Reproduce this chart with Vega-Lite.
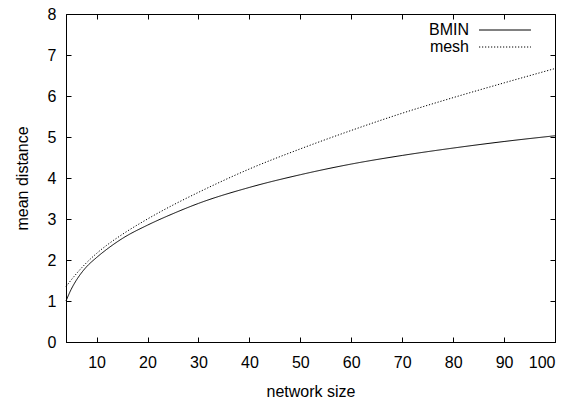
{
  "$schema": "https://vega.github.io/schema/vega-lite/v6.json",
  "autosize": "none",
  "width": 489,
  "height": 328,
  "padding": {"left": 66, "top": 14, "right": 27, "bottom": 60},
  "background": "white",
  "config": {
    "font": "Liberation Sans",
    "view": {"stroke": "black", "strokeWidth": 1},
    "axis": {
      "grid": false,
      "domainColor": "black",
      "tickColor": "black",
      "labelColor": "black",
      "titleColor": "black",
      "labelFont": "Liberation Sans",
      "titleFont": "Liberation Sans",
      "labelFontSize": 16,
      "titleFontSize": 16,
      "titleFontWeight": "normal",
      "tickSize": -5
    }
  },
  "data": {
    "values": [
      {"n": 4, "series": "BMIN", "d": 1.0},
      {"n": 5, "series": "BMIN", "d": 1.28},
      {"n": 6, "series": "BMIN", "d": 1.5},
      {"n": 7, "series": "BMIN", "d": 1.68},
      {"n": 8, "series": "BMIN", "d": 1.83},
      {"n": 10, "series": "BMIN", "d": 2.06},
      {"n": 12, "series": "BMIN", "d": 2.26},
      {"n": 15, "series": "BMIN", "d": 2.52},
      {"n": 20, "series": "BMIN", "d": 2.85},
      {"n": 25, "series": "BMIN", "d": 3.13},
      {"n": 30, "series": "BMIN", "d": 3.38},
      {"n": 40, "series": "BMIN", "d": 3.77},
      {"n": 50, "series": "BMIN", "d": 4.08},
      {"n": 60, "series": "BMIN", "d": 4.34},
      {"n": 70, "series": "BMIN", "d": 4.55},
      {"n": 80, "series": "BMIN", "d": 4.73},
      {"n": 90, "series": "BMIN", "d": 4.89},
      {"n": 100, "series": "BMIN", "d": 5.03},
      {"n": 4, "series": "mesh", "d": 1.35},
      {"n": 5, "series": "mesh", "d": 1.51},
      {"n": 6, "series": "mesh", "d": 1.66},
      {"n": 7, "series": "mesh", "d": 1.8},
      {"n": 8, "series": "mesh", "d": 1.93},
      {"n": 10, "series": "mesh", "d": 2.16},
      {"n": 12, "series": "mesh", "d": 2.36},
      {"n": 15, "series": "mesh", "d": 2.62},
      {"n": 20, "series": "mesh", "d": 3.0},
      {"n": 25, "series": "mesh", "d": 3.34},
      {"n": 30, "series": "mesh", "d": 3.65},
      {"n": 40, "series": "mesh", "d": 4.22},
      {"n": 50, "series": "mesh", "d": 4.71},
      {"n": 60, "series": "mesh", "d": 5.16},
      {"n": 70, "series": "mesh", "d": 5.58},
      {"n": 80, "series": "mesh", "d": 5.96},
      {"n": 90, "series": "mesh", "d": 6.32},
      {"n": 100, "series": "mesh", "d": 6.67}
    ]
  },
  "layer": [
    {
      "mark": {"type": "line", "color": "black", "strokeWidth": 1, "interpolate": "monotone"},
      "encoding": {
        "x": {
          "field": "n", "type": "quantitative",
          "scale": {"domain": [4, 100], "nice": false, "zero": false},
          "axis": {"orient": "bottom", "title": "network size", "values": [10, 20, 30, 40, 50, 60, 70, 80, 90, 100], "labelPadding": 17, "titlePadding": 13}
        },
        "y": {
          "field": "d", "type": "quantitative",
          "scale": {"domain": [0, 8], "nice": false},
          "axis": {"orient": "left", "title": "mean distance", "values": [0, 1, 2, 3, 4, 5, 6, 7, 8], "labelPadding": 15, "titlePadding": 17}
        },
        "strokeDash": {
          "field": "series", "type": "nominal",
          "scale": {"domain": ["BMIN", "mesh"], "range": [[1, 0], [1.2, 1.8]]},
          "legend": {
            "title": null,
            "orient": "none",
            "legendX": 431,
            "legendY": 8,
            "padding": 0,
            "symbolType": "M-5,0H5",
            "symbolSize": 108,
            "symbolStrokeWidth": 1,
            "symbolStrokeColor": "black",
            "symbolFillColor": "transparent",
            "labelFont": "Liberation Sans",
            "labelFontSize": 16,
            "labelColor": "black",
            "labelAlign": "right",
            "labelOffset": -44,
            "rowPadding": 1
          }
        },
        "detail": {"field": "series"}
      }
    },
    {
      "mark": {"type": "line", "strokeOpacity": 0},
      "encoding": {
        "x": {
          "field": "n", "type": "quantitative",
          "axis": {"orient": "top", "title": null, "labels": false, "domain": false, "values": [10, 20, 30, 40, 50, 60, 70, 80, 90, 100]}
        },
        "y": {
          "field": "d", "type": "quantitative",
          "axis": {"orient": "right", "title": null, "labels": false, "domain": false, "values": [0, 1, 2, 3, 4, 5, 6, 7, 8]}
        },
        "detail": {"field": "series"}
      }
    }
  ]
}
